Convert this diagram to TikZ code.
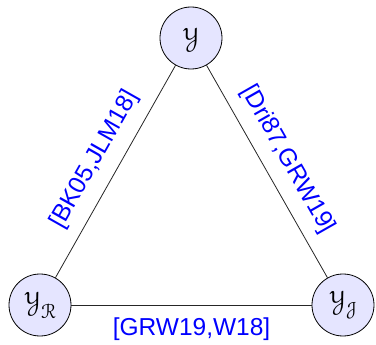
\documentclass[tikz,border=0pt]{standalone}
\usepackage[mathcal]{eucal}
\usepackage{fontspec}
\newfontfamily\labelfont{Liberation Sans}
\begin{document}
\begin{tikzpicture}[x=1pt,y=-1pt,
  vertex/.style={circle,draw=black,line width=0.8pt,fill=blue!10,minimum size=62pt,inner sep=0pt,font=\fontsize{29}{34}\selectfont},
  edge/.style={line width=0.8pt,black!85},
  reflabel/.style={text=blue,font=\labelfont\fontsize{24.5}{28}\selectfont,inner sep=2pt}]
\useasboundingbox (0,0) rectangle (376,345);
\node[vertex] (Y) at (191,38) {$\mathcal{Y}$};
\node[vertex] (YR) at (40,305) {$\mathcal{Y}_{\mathcal{R}}$};
\node[vertex] (YJ) at (343,305) {$\mathcal{Y}_{\mathcal{J}}$};
\draw[edge] (YR) -- node[reflabel,sloped,above=10pt] {[BK05,JLM18]} (Y);
\draw[edge] (Y) -- node[reflabel,sloped,above=10pt] {[Dri87,GRW19]} (YJ);
\draw[edge] (YR) -- node[reflabel,below=10pt] {[GRW19,W18]} (YJ);
\end{tikzpicture}
\end{document}
